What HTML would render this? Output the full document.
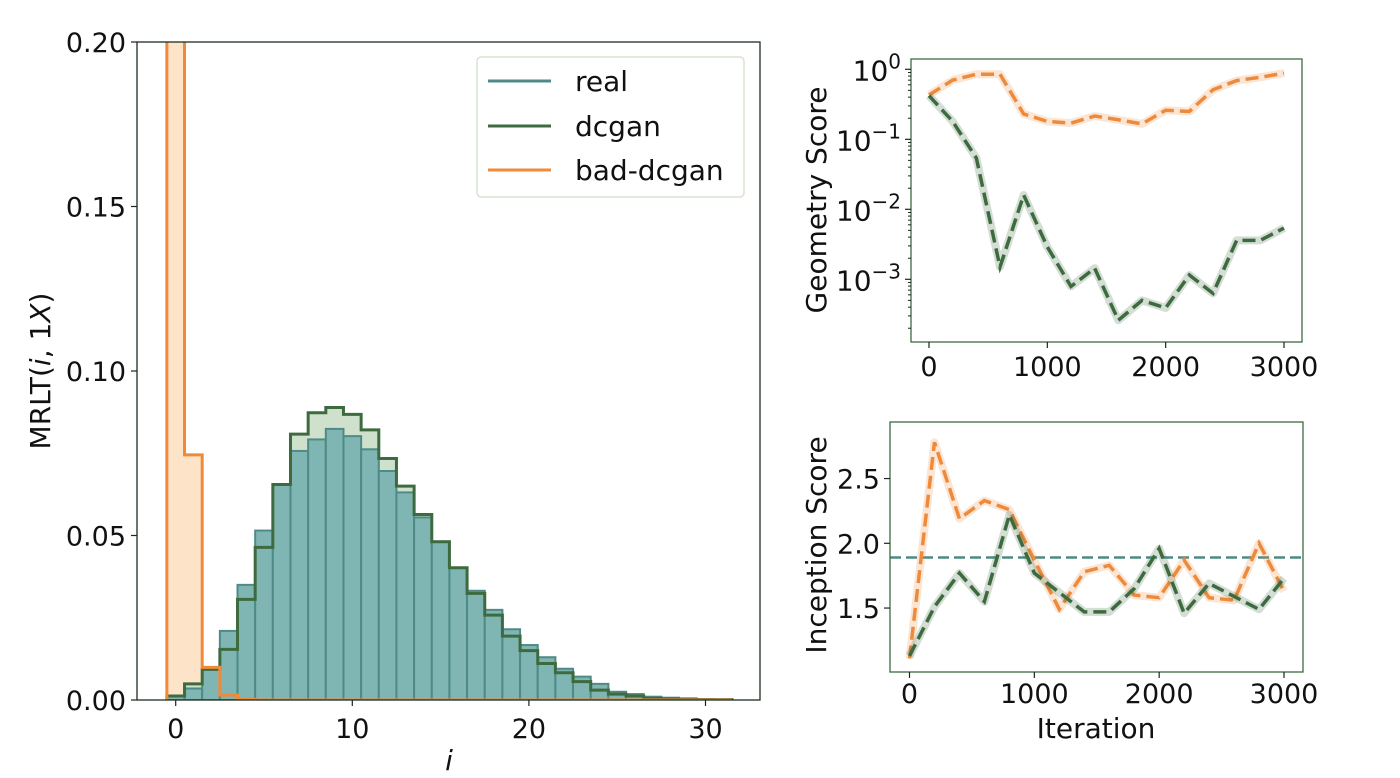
<!DOCTYPE html>
<html><head><meta charset="utf-8">
<style>
body{margin:0;background:#fff;}
svg{display:block;font-family:"DejaVu Sans","Liberation Sans",sans-serif;}
</style></head>
<body>
<svg id="fig" width="1400" height="778" viewBox="0 0 1400 778" xmlns="http://www.w3.org/2000/svg"></svg>
<script>
// ---- histogram data ----
const binCenters = [0,1,2,3,4,5,6,7,8,9,10,11,12,13,14,15,16,17,18,19,20,21,22,23,24,25,26,27,28,29,30,31];
const realVals = [0.0012,0.0035,0.010,0.021,0.035,0.0515,0.0655,0.0757,0.0792,0.0824,0.0802,0.0762,0.0696,0.0631,0.0555,0.0482,0.0402,0.0332,0.0274,0.0215,0.0167,0.0130,0.0095,0.0071,0.0049,0.0025,0.0018,0.0010,0.0007,0.0005,0.0003,0.0002];
const dcganVals = [0.0012,0.0049,0.0093,0.0154,0.0306,0.0464,0.0655,0.0808,0.0873,0.0889,0.0868,0.0821,0.0734,0.0650,0.0564,0.0481,0.0402,0.0324,0.0258,0.0194,0.0150,0.0111,0.0083,0.0056,0.0030,0.0018,0.0012,0.0005,0.0003,0.0002,0.0001,0.0001];
const badVals = [0.45,0.0745,0.0099,0.0015,0.0002,0,0,0,0,0,0,0,0,0,0,0,0,0,0,0,0,0,0,0,0,0,0,0,0,0,0,0];
const histYTicks = [0,0.05,0.10,0.15,0.20];
const histYTickLabels = ["0.00","0.05","0.10","0.15","0.20"];
const histXTicks = [0,10,20,30];
// ---- line chart data ----
const iters = [0,200,400,600,800,1000,1200,1400,1600,1800,2000,2200,2400,2600,2800,3000];
const geoBad = [0.43,0.70,0.85,0.85,0.23,0.18,0.17,0.215,0.19,0.166,0.26,0.25,0.51,0.69,0.77,0.88];
const geoDcgan = [0.42,0.18,0.054,0.0015,0.016,0.0029,0.00079,0.00144,0.00026,0.0005,0.00039,0.00115,0.00063,0.0036,0.0036,0.0054];
const incBad = [1.11,2.78,2.19,2.33,2.26,1.87,1.49,1.78,1.83,1.60,1.58,1.87,1.58,1.56,2.0,1.63];
const incDcgan = [1.13,1.51,1.77,1.55,2.22,1.77,1.62,1.47,1.47,1.65,1.96,1.46,1.69,1.59,1.49,1.73];
const incReal = [1.89];
const iterTicks = [0,1000,2000,3000];
const geoExpTicks = [0,-1,-2,-3];
const incTicks = [1.5,2.0,2.5];
const incTickLabels = ["1.5","2.0","2.5"];

const NS="http://www.w3.org/2000/svg";
const svg=document.getElementById('fig');
function mk(tag,attrs,parent){const e=document.createElementNS(NS,tag);for(const k in attrs)e.setAttribute(k,attrs[k]);(parent||svg).appendChild(e);return e;}

const ORANGE="#ee8a3a", TEAL="#4f8a86", DGREEN="#3d6b3f", TEALFILL="#7fb6b3", GFILL="#cfe0cc", OFILL="#fde4c9";
const FT=27, FL=28;

// ===== histogram =====
const H={l:137,r:760,t:42,b:700};
const hx=v=>175.7+17.66*v;
const hy=v=>H.b-(v/0.2)*(H.b-H.t);
mk('defs',{}).innerHTML='<clipPath id="hclip"><rect x="137" y="42" width="623" height="658"/></clipPath>';
const hg=mk('g',{'clip-path':'url(#hclip)'});


function stepPath(vals){let d='M'+hx(binCenters[0]-0.5)+','+hy(0);vals.forEach((v,i)=>{d+=' L'+hx(binCenters[i]-0.5)+','+hy(v)+' L'+hx(binCenters[i]+0.5)+','+hy(v);});d+=' L'+hx(binCenters[binCenters.length-1]+0.5)+','+hy(0);return d;}
const bf=mk('path',{d:stepPath(badVals)+' Z',fill:OFILL,stroke:'none'},hg);

const df=mk('path',{d:stepPath(dcganVals)+' Z',fill:GFILL,stroke:'none'},hg);

binCenters.forEach((c,i)=>{
  const r=mk('rect',{x:hx(c-0.5),y:hy(realVals[i]),width:hx(c+0.5)-hx(c-0.5),height:hy(0)-hy(realVals[i]),fill:TEALFILL,stroke:TEAL,'stroke-width':2},hg);
  
  
});
const dl=mk('path',{d:stepPath(dcganVals),fill:'none',stroke:DGREEN,'stroke-width':3},hg);

const bl=mk('path',{d:stepPath(badVals),fill:'none',stroke:ORANGE,'stroke-width':3},hg);

const hf=mk('rect',{x:H.l,y:H.t,width:H.r-H.l,height:H.b-H.t,fill:'none',stroke:'#1e2e1e','stroke-width':1.3});

histYTicks.forEach((v,i)=>{
  mk('line',{x1:H.l-6,x2:H.l,y1:hy(v),y2:hy(v),stroke:'#222','stroke-width':1.2});
  const t=mk('text',{x:H.l-11,y:hy(v)+10,'text-anchor':'end','font-size':FT,fill:'#111'});
  t.textContent=histYTickLabels[i];
  
});
histXTicks.forEach(v=>{
  mk('line',{x1:hx(v),x2:hx(v),y1:H.b,y2:H.b+6,stroke:'#222','stroke-width':1.2});
  const t=mk('text',{x:hx(v),y:H.b+38,'text-anchor':'middle','font-size':FT,fill:'#111'});
  t.textContent=v;
  
});
let t=mk('text',{x:449,y:770,'text-anchor':'middle','font-size':FL,'font-style':'italic',fill:'#111'});t.textContent='i';

t=mk('text',{transform:'translate(50,371) rotate(-90)','text-anchor':'middle','font-size':FL,fill:'#111'});
t.innerHTML='MRLT(<tspan font-style="italic">i</tspan>, 1<tspan font-style="italic">X</tspan>)';

// legend
const lg=mk('g',{});
mk('rect',{x:477,y:57,width:267,height:140,rx:4,fill:'#fff',stroke:'#d6e4d2','stroke-width':1.5},lg);
[['real',TEAL,81],['dcgan',DGREEN,126],['bad-dcgan',ORANGE,170]].forEach(e=>{
  const g=mk('g',{},lg);
  
  mk('line',{x1:488,x2:551,y1:e[2],y2:e[2],stroke:e[1],'stroke-width':3},g);
  const tt=mk('text',{x:575,y:e[2]+10,'font-size':FL,fill:'#111'},g);tt.textContent=e[0];
});

// ===== geometry score =====
const G={l:911,r:1302,t:59,b:342};
const gx=v=>929+(v/3000)*355;
const gy=v=>69.3-70*Math.log10(v);
mk('defs',{}).innerHTML='<clipPath id="gclip"><rect x="911" y="59" width="391" height="283"/></clipPath>';
const gg=mk('g',{'clip-path':'url(#gclip)'});
function line(g,xs,ys,fx,fy,col,name){
  const pts=xs.map((x,i)=>fx(x)+','+fy(ys[i])).join(' ');
  const band=mk('polyline',{points:pts,fill:'none',stroke:col,'stroke-width':8,opacity:0.22,'stroke-linejoin':'round'},g);
  
  const p=mk('polyline',{points:pts,fill:'none',stroke:col,'stroke-width':3.5,'stroke-dasharray':'13,6'},g);
  
}
line(gg,iters,geoBad,gx,gy,ORANGE,'geometry-bad-dcgan-line');
line(gg,iters,geoDcgan,gx,gy,DGREEN,'geometry-dcgan-line');
const gf=mk('rect',{x:G.l,y:G.t,width:G.r-G.l,height:G.b-G.t,fill:'none',stroke:'#3d6b3f','stroke-width':1.3});

geoExpTicks.forEach(e=>{
  const y=gy(Math.pow(10,e));
  mk('line',{x1:G.l-6,x2:G.l,y1:y,y2:y,stroke:'#222','stroke-width':1.2});
  for(let k=2;k<10;k++){const yy=gy(k*Math.pow(10,e-1));if(yy<G.b&&yy>G.t)mk('line',{x1:G.l-3,x2:G.l,y1:yy,y2:yy,stroke:'#222','stroke-width':1});}
  const tt=mk('text',{x:G.l-10,y:y+11,'text-anchor':'end','font-size':FT+1,fill:'#111'});
  tt.innerHTML='10<tspan dy="-12" font-size="20">'+(e===0?'0':'\u2212'+(-e))+'</tspan>';
  
});
iterTicks.forEach(v=>{
  mk('line',{x1:gx(v),x2:gx(v),y1:G.b,y2:G.b+6,stroke:'#222','stroke-width':1.2});
  const tt=mk('text',{x:gx(v),y:G.b+34,'text-anchor':'middle','font-size':FT,fill:'#111'});tt.textContent=v;
  
});
t=mk('text',{transform:'translate(826,200) rotate(-90)','text-anchor':'middle','font-size':FL,fill:'#111'});t.textContent='Geometry Score';


// ===== inception score =====
const I={l:890,r:1303,t:422,b:672};
const ix=v=>909.5+(v/3000)*374.5;
const iy=v=>543.3-(v-2.0)*129.5;
mk('defs',{}).innerHTML='<clipPath id="iclip"><rect x="890" y="422" width="413" height="250"/></clipPath>';
const ig=mk('g',{'clip-path':'url(#iclip)'});
const rl=mk('line',{x1:I.l,x2:I.r,y1:iy(incReal[0]),y2:iy(incReal[0]),stroke:TEAL,'stroke-width':2.5,'stroke-dasharray':'11,5'},ig);

line(ig,iters,incBad,ix,iy,ORANGE,'inception-bad-dcgan-line');
line(ig,iters,incDcgan,ix,iy,DGREEN,'inception-dcgan-line');
const ifr=mk('rect',{x:I.l,y:I.t,width:I.r-I.l,height:I.b-I.t,fill:'none',stroke:'#3d6b3f','stroke-width':1.3});

incTicks.forEach((v,i)=>{
  mk('line',{x1:I.l-6,x2:I.l,y1:iy(v),y2:iy(v),stroke:'#222','stroke-width':1.2});
  const tt=mk('text',{x:I.l-10,y:iy(v)+10,'text-anchor':'end','font-size':FT,fill:'#111'});tt.textContent=incTickLabels[i];
  
});
iterTicks.forEach(v=>{
  mk('line',{x1:ix(v),x2:ix(v),y1:I.b,y2:I.b+6,stroke:'#222','stroke-width':1.2});
  const tt=mk('text',{x:ix(v),y:I.b+31,'text-anchor':'middle','font-size':FT,fill:'#111'});tt.textContent=v;
  
});
t=mk('text',{x:1096,y:738,'text-anchor':'middle','font-size':FL,fill:'#111'});t.textContent='Iteration';

t=mk('text',{transform:'translate(826,545) rotate(-90)','text-anchor':'middle','font-size':FL,fill:'#111'});t.textContent='Inception Score';

</script>
</body></html>
